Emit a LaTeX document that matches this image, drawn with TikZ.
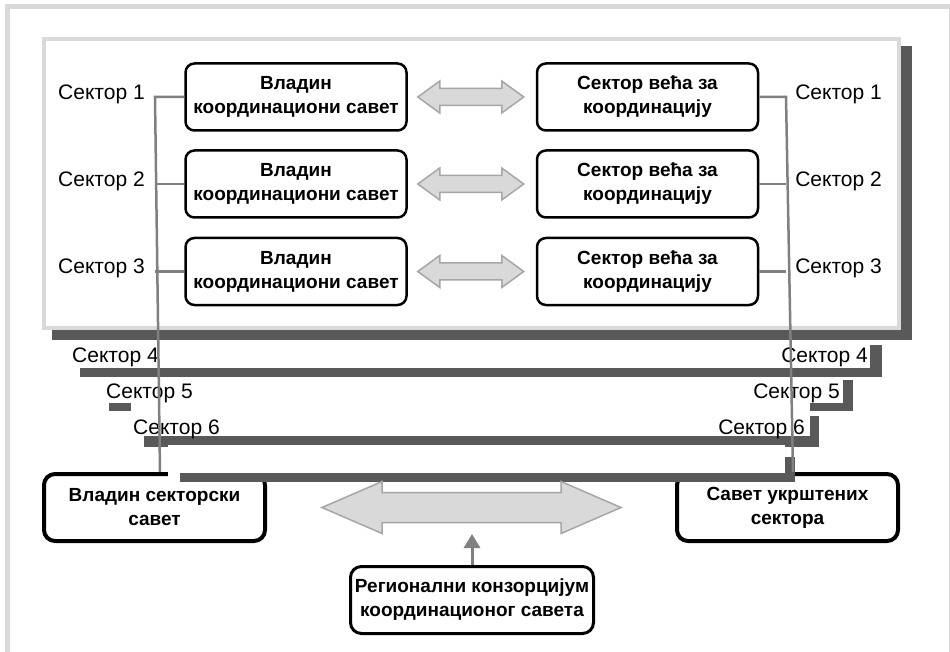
\documentclass[tikz,border=0pt]{standalone}
\usepackage{fontspec}
\setmainfont{Liberation Sans}
\usepackage{tikz}
\usetikzlibrary{positioning,calc,arrows.meta}
\definecolor{framegray}{RGB}{217,217,217}
\definecolor{shadowgray}{RGB}{89,89,89}
\definecolor{linkgray}{RGB}{128,128,128}
\definecolor{arrowline}{RGB}{166,166,166}

\tikzset{
  council/.style={rectangle, rounded corners=9pt, draw, line width=2.5pt, fill=white,
    minimum width=221pt, minimum height=67pt, inner sep=2pt, align=center,
    font=\fontsize{19}{24}\selectfont\bfseries},
  bigcouncil/.style={council, line width=4pt, rounded corners=11pt},
  sectorlbl/.style={inner sep=0pt, font=\fontsize{21}{25}\selectfont},
  link/.style={draw=linkgray, line width=2.5pt},
  twoway/.style={fill=framegray, draw=arrowline, line width=1.5pt, line join=miter},
  uparrow/.style={draw=linkgray, line width=3pt, -{Triangle[length=14pt,width=16pt]}}
}

% two-headed block arrow: left tip, right tip, head length, head half width, shaft half width
\newcommand{\twowayarrow}[5]{%
  \filldraw[twoway] (#1) -- ($(#1)+(#3,-#4)$) -- ($(#1)+(#3,-#5)$) -- ($(#2)+(-#3,-#5)$)
    -- ($(#2)+(-#3,-#4)$) -- (#2) -- ($(#2)+(-#3,#4)$) -- ($(#2)+(-#3,#5)$)
    -- ($(#1)+(#3,#5)$) -- ($(#1)+(#3,#4)$) -- cycle;}

\begin{document}
\begin{tikzpicture}[x=1pt, y=-1pt]
        \useasboundingbox (0,0) rectangle (950,652);
        \clip (0,0) rectangle (950,652);
        \fill[white] (0,0) rectangle (950,652);
        \draw[framegray, line width=5pt] (7,7) rectangle (951,700);

        % front panel with sectors 1-3
        \fill[shadowgray] (52,46) rectangle (912,340);
        \draw[framegray, line width=4pt, fill=white] (44,39) rectangle (899,328);

        % bottom councils
        \node[bigcouncil] (gsec) at (154.5,507.5) {Владин секторски\\савет};
        \node[bigcouncil] (csec) at (787.5,507.5) {Савет укрштених\\сектора};

        % panels behind: sectors 4-6
        \fill[shadowgray] (80,368) rectangle (882,377);
        \fill[shadowgray] (870,345) rectangle (882,377);
        \fill[shadowgray] (109,403) rectangle (853,411);
        \fill[shadowgray] (843,380) rectangle (853,411);
        \fill[white] (131,400) rectangle (810,436);
        \fill[shadowgray] (144,436) rectangle (819,447);
        \fill[shadowgray] (810,416) rectangle (819,447);
        \fill[white] (168,445) rectangle (785,479);
        \fill[shadowgray] (180,473) rectangle (795,482);
        \fill[shadowgray] (785,457) rectangle (795,482);

        \node[sectorlbl, anchor=base west] (l4) at (72,362) {Сектор 4};
        \node[sectorlbl, anchor=base east] (r4) at (868,362) {Сектор 4};
        \node[sectorlbl, anchor=base west] (l5) at (106,398) {Сектор 5};
        \node[sectorlbl, anchor=base east] (r5) at (840,398) {Сектор 5};
        \node[sectorlbl, anchor=base west] (l6) at (133,434) {Сектор 6};
        \node[sectorlbl, anchor=base east] (r6) at (805,434) {Сектор 6};

        % councils of sectors 1-3
        \node[council] (gv1) at (296,97) {Владин\\координациони савет};
        \node[council] (gv2) at (296,184) {Владин\\координациони савет};
        \node[council] (gv3) at (296,271.5) {Владин\\координациони савет};
        \node[council] (sv1) at (647.5,97) {Сектор већа за\\координацију};
        \node[council] (sv2) at (647.5,184) {Сектор већа за\\координацију};
        \node[council] (sv3) at (647.5,271.5) {Сектор већа за\\координацију};

        \node[sectorlbl, anchor=base west] (l1) at (58,100) {Сектор 1};
        \node[sectorlbl, anchor=base west] (l2) at (58,187) {Сектор 2};
        \node[sectorlbl, anchor=base west] (l3) at (58,274) {Сектор 3};
        \node[sectorlbl, anchor=base east] (r1) at (882,100) {Сектор 1};
        \node[sectorlbl, anchor=base east] (r2) at (882,187) {Сектор 2};
        \node[sectorlbl, anchor=base east] (r3) at (882,274) {Сектор 3};

        \twowayarrow{$(gv1.east)+(10,0)$}{$(sv1.west)+(-12,0)$}{22}{16}{8.5}
        \twowayarrow{$(gv2.east)+(10,0)$}{$(sv2.west)+(-12,0)$}{22}{16}{8.5}
        \twowayarrow{$(gv3.east)+(10,0)$}{$(sv3.west)+(-12,0)$}{22}{16}{8.5}

        % sector links down to the bottom councils
        \coordinate (ltop) at (155,97);
        \coordinate (rtop) at (786,97);
        \draw[link] (gv1.west) -- (ltop) -- ($(gsec.north)+(5.5,0)$);
        \draw[link] (gv2.west) -- (gv2.west -| ltop);
        \draw[link] (gv3.west) -- (gv3.west -| ltop);
        \draw[link] (sv1.east) -- (rtop) -- ($(csec.north)+(5.5,0)$);
        \draw[link] (sv2.east) -- (sv2.east -| rtop);
        \draw[link] (sv3.east) -- (sv3.east -| rtop);

        % regional consortium
        \twowayarrow{$(gsec.east)+(55,0)$}{$(csec.west)+(-54,0)$}{60}{26}{15}
        \node[bigcouncil, line width=3pt, minimum width=243pt] (reg) at (472,600) {Регионални конзорцијум\\координационог савета};
        \draw[uparrow] (reg.north) -- ($(reg.north)+(0,-31)$);
\end{tikzpicture}
\end{document}
